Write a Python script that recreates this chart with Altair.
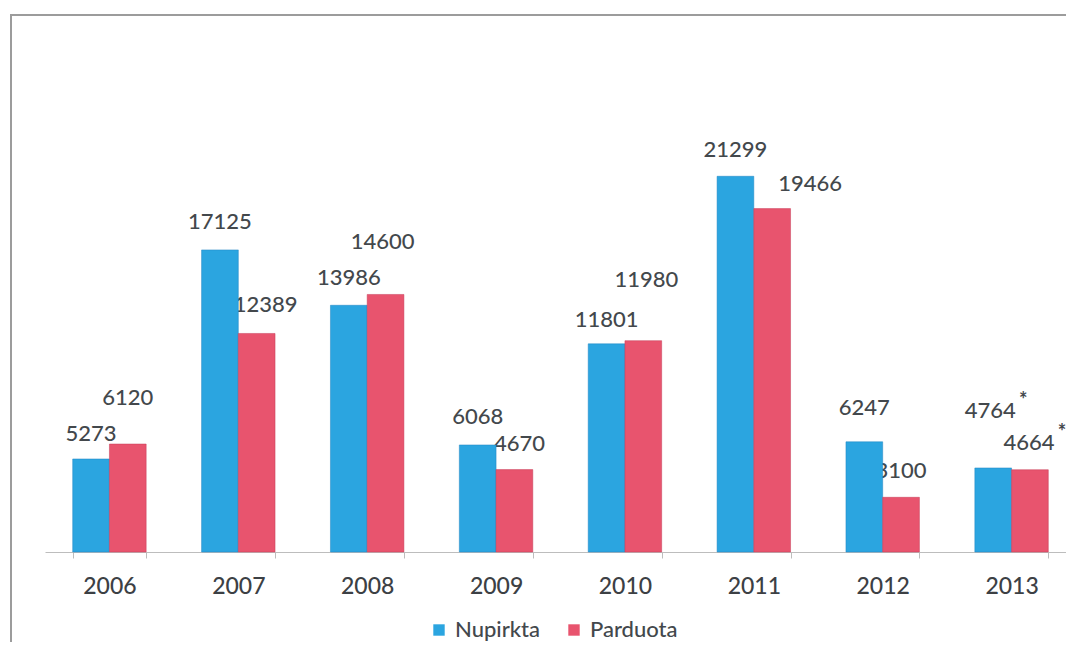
import altair as alt
import pandas as pd

years = ["2006", "2007", "2008", "2009", "2010", "2011", "2012", "2013"]
series_names = ["Nupirkta", "Parduota"]
nupirkta = [5273, 17125, 13986, 6068, 11801, 21299, 6247, 4764]
parduota = [6120, 12389, 14600, 4670, 11980, 19466, 3100, 4664]
# footnote marks next to labels
notes = {("2013", "Nupirkta"): "*", ("2013", "Parduota"): "*"}

# style: hand-placed label nudges (dx, dy in px from the bar top centre), as in the original
label_nudge = {
    ("2006", "Nupirkta"): (0, -25), ("2006", "Parduota"): (0, -46),
    ("2007", "Nupirkta"): (0, -28), ("2007", "Parduota"): (9, -28),
    ("2008", "Nupirkta"): (0, -27), ("2008", "Parduota"): (-3, -52),
    ("2009", "Nupirkta"): (0, -28), ("2009", "Parduota"): (5, -26),
    ("2010", "Nupirkta"): (0, -24), ("2010", "Parduota"): (3, -61),
    ("2011", "Nupirkta"): (0, -26), ("2011", "Parduota"): (38, -25),
    ("2012", "Nupirkta"): (0, -34), ("2012", "Parduota"): (0, -26),
    ("2013", "Nupirkta"): (-3, -57), ("2013", "Parduota"): (-1, -27),
}

colors = ["#2BA5E0", "#E8546E"]
strokes = ["#1f86c4", "#c83c58"]
text_color = "#43484c"
FONT = "Lato"

rows = []
for s, vals in zip(series_names, [nupirkta, parduota]):
    for y, v in zip(years, vals):
        rows.append({"year": y, "series": s, "value": v, "note": notes.get((y, s), "")})
df = pd.DataFrame(rows)

W, H = 1020, 441

x_enc = alt.X("year:N", sort=years,
              scale=alt.Scale(paddingInner=0.43, paddingOuter=0.215, range=[0, 1031]),
              axis=alt.Axis(title=None, labelAngle=0, labelFont=FONT, labelFontSize=23,
                            labelFontWeight=500, labelColor="#3c4044", labelPadding=17,
                            domainColor="#bdbdbd", tickColor="#bdbdbd", tickSize=6,
                            tickBand="extent", grid=False))
xo_enc = alt.XOffset("series:N", sort=series_names)
y_enc = alt.Y("value:Q", scale=alt.Scale(domain=[0, 25000], nice=False), axis=None)

base = alt.Chart(df)

bars = base.mark_bar(strokeWidth=1, strokeOpacity=0.5).encode(
    x=x_enc, xOffset=xo_enc, y=y_enc,
    color=alt.Color("series:N", sort=series_names,
                    scale=alt.Scale(domain=series_names, range=colors),
                    legend=alt.Legend(title=None, orient="none", direction="horizontal",
                                      legendX=383, legendY=508, symbolType="square",
                                      symbolSize=130, symbolStrokeWidth=0,
                                      labelFont=FONT, labelFontSize=22, labelFontWeight=500,
                                      labelColor=text_color, columnPadding=22,
                                      labelOffset=5)),
    stroke=alt.Stroke("series:N", sort=series_names,
                      scale=alt.Scale(domain=series_names, range=strokes),
                      legend=None),
)


def label_layers(series):
    layers = []
    for y in years:
        dx, dy = label_nudge[(y, series)]
        sel = base.transform_filter((alt.datum.series == series) & (alt.datum.year == y))
        layers.append(sel.mark_text(font=FONT, fontSize=22, fontWeight=500, color=text_color,
                                    baseline="middle", dx=dx, dy=dy)
                      .encode(x=x_enc, xOffset=xo_enc, y=y_enc, text="value:Q"))
        if notes.get((y, series)):
            layers.append(sel.mark_text(font=FONT, fontSize=20, fontWeight=700,
                                        color=text_color, baseline="middle",
                                        dx=dx + 33, dy=dy - 10)
                          .encode(x=x_enc, xOffset=xo_enc, y=y_enc, text="note:N"))
    return layers


one = alt.Chart(pd.DataFrame({"k": [0]}))
frame = one.mark_rect(fillOpacity=0, stroke="#9c9c9c", strokeWidth=2).encode(
    x=alt.value(-34), x2=alt.value(1100), y=alt.value(-96), y2=alt.value(600))

chart = alt.layer(
    frame,
    *label_layers("Parduota"),
    bars,
    *label_layers("Nupirkta"),
).properties(
    width=W, height=H,
    autosize=alt.AutoSizeParams(type="none"),
    padding={"left": 37, "top": 103, "right": 1, "bottom": 90},
    background="white",
).configure_view(stroke=None)

chart.save("out.html", embed_options={"renderer": "svg", "actions": False})
